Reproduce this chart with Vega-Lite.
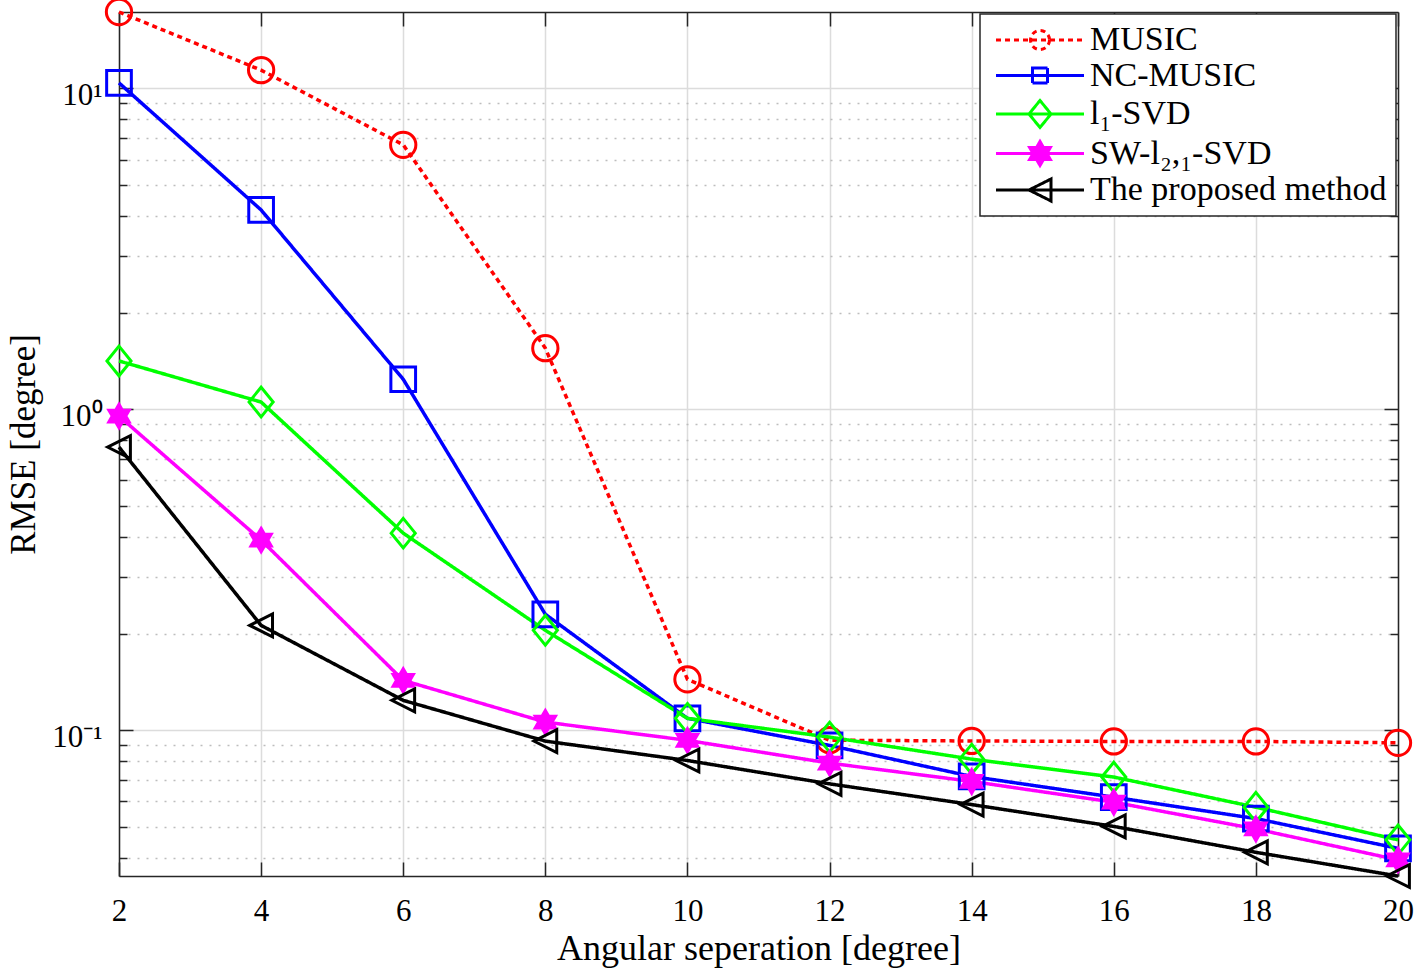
{
  "$schema": "https://vega.github.io/schema/vega-lite/v6.json",
  "autosize": "none",
  "width": 1279,
  "height": 864,
  "padding": {"left": 119, "top": 12, "right": 19, "bottom": 94},
  "background": "white",
  "config": {
    "view": {"stroke": null},
    "font": "Liberation Serif"
  },
  "data": {
    "values": [
      {"method": "MUSIC", "sep": 2, "rmse": 17.3},
      {"method": "MUSIC", "sep": 4, "rmse": 11.4},
      {"method": "MUSIC", "sep": 6, "rmse": 6.67},
      {"method": "MUSIC", "sep": 8, "rmse": 1.55},
      {"method": "MUSIC", "sep": 10, "rmse": 0.144},
      {"method": "MUSIC", "sep": 12, "rmse": 0.093},
      {"method": "MUSIC", "sep": 14, "rmse": 0.0925},
      {"method": "MUSIC", "sep": 16, "rmse": 0.0922},
      {"method": "MUSIC", "sep": 18, "rmse": 0.0922},
      {"method": "MUSIC", "sep": 20, "rmse": 0.0913},
      {"method": "NC-MUSIC", "sep": 2, "rmse": 10.4},
      {"method": "NC-MUSIC", "sep": 4, "rmse": 4.18},
      {"method": "NC-MUSIC", "sep": 6, "rmse": 1.24},
      {"method": "NC-MUSIC", "sep": 8, "rmse": 0.2296},
      {"method": "NC-MUSIC", "sep": 10, "rmse": 0.1088},
      {"method": "NC-MUSIC", "sep": 12, "rmse": 0.0896},
      {"method": "NC-MUSIC", "sep": 14, "rmse": 0.0717},
      {"method": "NC-MUSIC", "sep": 16, "rmse": 0.0618},
      {"method": "NC-MUSIC", "sep": 18, "rmse": 0.053},
      {"method": "NC-MUSIC", "sep": 20, "rmse": 0.0428},
      {"method": "l₁-SVD", "sep": 2, "rmse": 1.414},
      {"method": "l₁-SVD", "sep": 4, "rmse": 1.053},
      {"method": "l₁-SVD", "sep": 6, "rmse": 0.411},
      {"method": "l₁-SVD", "sep": 8, "rmse": 0.2047},
      {"method": "l₁-SVD", "sep": 10, "rmse": 0.1088},
      {"method": "l₁-SVD", "sep": 12, "rmse": 0.0951},
      {"method": "l₁-SVD", "sep": 14, "rmse": 0.0812},
      {"method": "l₁-SVD", "sep": 16, "rmse": 0.0714},
      {"method": "l₁-SVD", "sep": 18, "rmse": 0.0575},
      {"method": "l₁-SVD", "sep": 20, "rmse": 0.0455},
      {"method": "SW-l₂,₁-SVD", "sep": 2, "rmse": 0.952},
      {"method": "SW-l₂,₁-SVD", "sep": 4, "rmse": 0.391},
      {"method": "SW-l₂,₁-SVD", "sep": 6, "rmse": 0.1429},
      {"method": "SW-l₂,₁-SVD", "sep": 8, "rmse": 0.1059},
      {"method": "SW-l₂,₁-SVD", "sep": 10, "rmse": 0.0929},
      {"method": "SW-l₂,₁-SVD", "sep": 12, "rmse": 0.0789},
      {"method": "SW-l₂,₁-SVD", "sep": 14, "rmse": 0.0692},
      {"method": "SW-l₂,₁-SVD", "sep": 16, "rmse": 0.0596},
      {"method": "SW-l₂,₁-SVD", "sep": 18, "rmse": 0.0492},
      {"method": "SW-l₂,₁-SVD", "sep": 20, "rmse": 0.0394},
      {"method": "The proposed method", "sep": 2, "rmse": 0.762},
      {"method": "The proposed method", "sep": 4, "rmse": 0.212},
      {"method": "The proposed method", "sep": 6, "rmse": 0.1238},
      {"method": "The proposed method", "sep": 8, "rmse": 0.0924},
      {"method": "The proposed method", "sep": 10, "rmse": 0.0804},
      {"method": "The proposed method", "sep": 12, "rmse": 0.068},
      {"method": "The proposed method", "sep": 14, "rmse": 0.0586},
      {"method": "The proposed method", "sep": 16, "rmse": 0.0501},
      {"method": "The proposed method", "sep": 18, "rmse": 0.0416},
      {"method": "The proposed method", "sep": 20, "rmse": 0.0351}
    ]
  },
  "resolve": {"axis": {"x": "independent", "y": "independent"}},
  "layer": [
    {
      "mark": {"type": "line", "strokeWidth": 3.5, "clip": false},
      "encoding": {
        "x": {
          "field": "sep", "type": "quantitative",
          "scale": {"domain": [2, 20], "nice": false, "zero": false},
          "axis": {
            "orient": "bottom",
            "values": [2, 4, 6, 8, 10, 12, 14, 16, 18, 20],
            "grid": true, "gridColor": "#dcdcdc", "gridWidth": 1.5,
            "tickSize": -14, "tickWidth": 1.5, "tickColor": "#262626",
            "domainColor": "#262626", "domainWidth": 1.5,
            "labelFont": "Liberation Serif", "labelFontSize": 31, "labelColor": "#000000",
            "labelPadding": 34.5, "labelFlush": false, "labelOverlap": false,
            "title": "Angular seperation [degree]",
            "titleFont": "Liberation Serif", "titleFontSize": 36, "titleFontWeight": "normal",
            "titleColor": "#000000", "titlePadding": 5
          }
        },
        "y": {
          "field": "rmse", "type": "quantitative",
          "scale": {"type": "log", "domain": [0.0351, 17.3], "nice": false},
          "axis": {
            "orient": "left",
            "values": [0.04, 0.05, 0.06, 0.07, 0.08, 0.09, 0.1, 0.2, 0.3, 0.4, 0.5, 0.6, 0.7, 0.8, 0.9, 1, 2, 3, 4, 5, 6, 7, 8, 9, 10],
            "labelExpr": "datum.value === 0.1 ? '10⁻¹' : datum.value === 1 ? '10⁰' : datum.value === 10 ? '10¹' : ''",
            "grid": true,
            "gridColor": {"condition": {"test": "datum.value === 0.1 || datum.value === 1 || datum.value === 10", "value": "#dcdcdc"}, "value": "#bdbdbd"},
            "gridDash": {"condition": {"test": "datum.value === 0.1 || datum.value === 1 || datum.value === 10", "value": []}, "value": [2, 7]},
            "gridWidth": 1.5,
            "tickSize": {"condition": {"test": "datum.value === 0.1 || datum.value === 1 || datum.value === 10", "value": -14}, "value": -8},
            "tickWidth": 1.5, "tickColor": "#262626",
            "domainColor": "#262626", "domainWidth": 1.5,
            "labelFont": "Liberation Serif", "labelFontSize": 31, "labelColor": "#000000",
            "labelPadding": 31, "labelOffset": 7, "labelOverlap": false, "labelFlush": false,
            "title": "RMSE [degree]",
            "titleFont": "Liberation Serif", "titleFontSize": 35, "titleFontWeight": "normal",
            "titleColor": "#000000", "titlePadding": 10
          }
        },
        "color": {
          "field": "method", "type": "nominal",
          "scale": {
            "domain": ["MUSIC", "NC-MUSIC", "l₁-SVD", "SW-l₂,₁-SVD", "The proposed method"],
            "range": ["#ff0000", "#0000ff", "#00ff00", "#ff00ff", "#000000"]
          },
          "legend": {
            "title": null,
            "orient": "top-right",
            "offset": 2,
            "padding": 9,
            "rowPadding": 1.5,
            "fillColor": "#ffffff",
            "strokeColor": "#262626",
            "symbolSize": 400,
            "symbolStrokeWidth": 3,
            "symbolOffset": 0,
            "labelOffset": 67,
            "labelFont": "Liberation Serif",
            "labelFontSize": 34,
            "labelColor": "#000000",
            "labelLimit": 0,
            "encode": {
              "legend": {
                "update": {
                  "strokeWidth": {"value": 1.5}
                }
              },
              "symbols": {
                "update": {
                  "shape": {"signal": "datum.index === 0 ? 'M-1,0H7.8M4.35,0A0.95,0.95,0,1,1,2.45,0A0.95,0.95,0,1,1,4.35,0Z' : datum.index === 1 ? 'M-1,0H7.8M2.65,-0.75H4.15V0.75H2.65Z' : datum.index === 2 ? 'M-1,0H7.8M3.4,-1.35L4.5,0L3.4,1.35L2.3,0Z' : datum.index === 3 ? 'M-1,0H7.8M3.4,-1.2L3.746,-0.6L4.439,-0.6L4.093,0L4.439,0.6L3.746,0.6L3.4,1.2L3.054,0.6L2.361,0.6L2.707,0L2.361,-0.6L3.054,-0.6Z' : 'M-1,0H7.8M2.3,0L4.5,-1.1L4.5,1.1Z'"},
                  "fill": {"signal": "datum.index === 3 ? '#ff00ff' : 'transparent'"}
                }
              }
            }
          }
        },
        "strokeDash": {
          "field": "method", "type": "nominal",
          "scale": {
            "domain": ["MUSIC", "NC-MUSIC", "l₁-SVD", "SW-l₂,₁-SVD", "The proposed method"],
            "range": [[5, 4], [1, 0], [1, 0], [1, 0], [1, 0]]
          },
          "legend": null
        }
      }
    },
    {
      "mark": {"type": "point", "filled": false, "strokeWidth": 3, "opacity": 1, "fillOpacity": 1, "clip": false},
      "encoding": {
        "x": {
          "field": "sep", "type": "quantitative",
          "scale": {"domain": [2, 20], "nice": false, "zero": false},
          "axis": {
            "orient": "top",
            "values": [2, 4, 6, 8, 10, 12, 14, 16, 18, 20],
            "grid": false, "labels": false, "title": null,
            "tickSize": -14, "tickWidth": 1.5, "tickColor": "#262626",
            "domainColor": "#262626", "domainWidth": 1.5
          }
        },
        "y": {
          "field": "rmse", "type": "quantitative",
          "scale": {"type": "log", "domain": [0.0351, 17.3], "nice": false},
          "axis": {
            "orient": "right",
            "values": [0.04, 0.05, 0.06, 0.07, 0.08, 0.09, 0.1, 0.2, 0.3, 0.4, 0.5, 0.6, 0.7, 0.8, 0.9, 1, 2, 3, 4, 5, 6, 7, 8, 9, 10],
            "grid": false, "labels": false, "title": null,
            "tickSize": {"condition": {"test": "datum.value === 0.1 || datum.value === 1 || datum.value === 10", "value": -14}, "value": -8},
            "tickWidth": 1.5, "tickColor": "#262626",
            "domainColor": "#262626", "domainWidth": 1.5
          }
        },
        "color": {
          "field": "method", "type": "nominal",
          "scale": {
            "domain": ["MUSIC", "NC-MUSIC", "l₁-SVD", "SW-l₂,₁-SVD", "The proposed method"],
            "range": ["#ff0000", "#0000ff", "#00ff00", "#ff00ff", "#000000"]
          },
          "legend": null
        },
        "fill": {
          "field": "method", "type": "nominal",
          "scale": {
            "domain": ["The proposed method", "SW-l₂,₁-SVD", "l₁-SVD", "NC-MUSIC", "MUSIC"],
            "range": ["transparent", "#ff00ff", "transparent", "transparent", "transparent"]
          },
          "legend": null
        },
        "shape": {
          "field": "method", "type": "nominal",
          "scale": {
            "domain": ["The proposed method", "SW-l₂,₁-SVD", "l₁-SVD", "NC-MUSIC", "MUSIC"],
            "range": ["M-1,0L1,-1L1,1Z", "M0,-1L0.289,-0.5L0.866,-0.5L0.577,0L0.866,0.5L0.289,0.5L0,1L-0.289,0.5L-0.866,0.5L-0.577,0L-0.866,-0.5L-0.289,-0.5Z", "M0,-1.23L1,0L0,1.23L-1,0Z", "square", "circle"]
          },
          "legend": null
        },
        "size": {
          "field": "method", "type": "nominal",
          "scale": {
            "domain": ["The proposed method", "SW-l₂,₁-SVD", "l₁-SVD", "NC-MUSIC", "MUSIC"],
            "range": [520, 640, 520, 230, 310]
          },
          "legend": null
        }
      }
    }
  ]
}
